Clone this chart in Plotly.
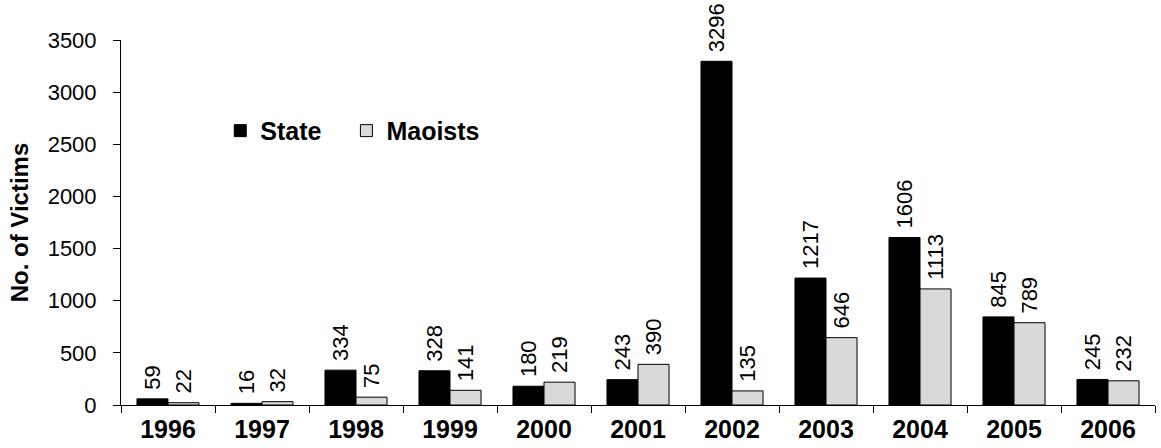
import plotly.graph_objects as go

years = ["1996", "1997", "1998", "1999", "2000", "2001", "2002", "2003", "2004", "2005", "2006"]
state = [59, 16, 334, 328, 180, 243, 3296, 1217, 1606, 845, 245]
maoists = [22, 32, 75, 141, 219, 390, 135, 646, 1113, 789, 232]
y_ticks = [0, 500, 1000, 1500, 2000, 2500, 3000, 3500]

FONT = "Liberation Sans"
LABEL_SIZE = 22


def labels(values):
    # leading no-break space keeps a small gap between bar top and label
    return ["\u00a0" + str(v) for v in values]


fig = go.Figure()
fig.add_trace(go.Bar(
    x=years, y=state, name="State", legend="legend",
    marker=dict(color="#000000", line=dict(color="#000000", width=1)),
    text=labels(state), textposition="outside", textangle=-90,
    textfont=dict(family=FONT, size=LABEL_SIZE, color="#000000"),
    cliponaxis=False, constraintext="none",
))
fig.add_trace(go.Bar(
    x=years, y=maoists, name="Maoists", legend="legend2",
    marker=dict(color="#D9D9D9", line=dict(color="#000000", width=1)),
    text=labels(maoists), textposition="outside", textangle=-90,
    textfont=dict(family=FONT, size=LABEL_SIZE, color="#000000"),
    cliponaxis=False, constraintext="none",
))

legend_style = dict(
    orientation="h", y=0.751, xanchor="left", yanchor="middle",
    font=dict(family=FONT, size=25, color="#000000", weight="bold"),
    bgcolor="rgba(0,0,0,0)",
)

fig.update_layout(
    width=1161, height=448,
    margin=dict(l=121, r=6, t=40, b=43, autoexpand=False),
    paper_bgcolor="white", plot_bgcolor="white",
    barmode="group", bargap=0.34, bargroupgap=0,
    font=dict(family=FONT, color="#000000"),
    showlegend=True,
    legend=dict(x=0.096, **legend_style),
    legend2=dict(x=0.218, **legend_style),
    xaxis=dict(
        type="category", showline=True, linecolor="#000000", linewidth=1,
        ticks="outside", tickson="boundaries", ticklen=7, tickcolor="#000000",
        tickfont=dict(family=FONT, size=25, color="#000000", weight="bold"),
        showgrid=False, zeroline=False, ticklabelstandoff=2, automargin=False,
    ),
    yaxis=dict(
        range=[0, 3500], tickvals=y_ticks, ticktext=[str(t) for t in y_ticks],
        showline=True, linecolor="#000000", linewidth=1,
        ticks="outside", ticklen=7, tickcolor="#000000",
        tickfont=dict(family=FONT, size=22, color="#000000"),
        showgrid=False, zeroline=False, ticklabelstandoff=12, automargin=False,
        title=dict(text="No. of Victims", standoff=12,
                   font=dict(family=FONT, size=24, color="#000000", weight="bold")),
    ),
)

fig.write_html("out.html")
